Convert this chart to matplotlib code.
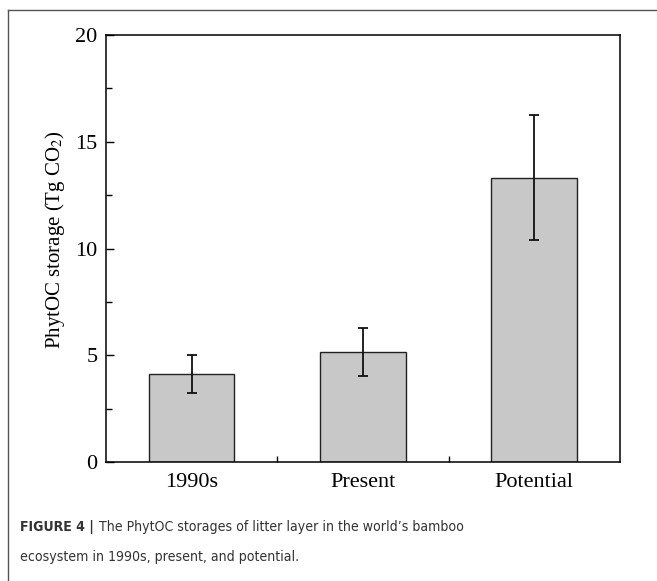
import numpy as np
import matplotlib
matplotlib.use("Agg")
import matplotlib.pyplot as plt
from matplotlib.lines import Line2D

# data
periods = ["1990s", "Present", "Potential"]
storage = [4.12, 5.17, 13.32]
storage_err = [0.90, 1.13, 2.94]

plt.rcParams["font.family"] = "Liberation Serif"
plt.rcParams["mathtext.fontset"] = "stix"

fig = plt.figure(figsize=(6.57, 5.81), dpi=100)
ax = fig.add_axes([0.1613, 0.2048, 0.7823, 0.7349])

x = np.arange(len(periods))
ax.bar(x, storage, width=0.5, color="#c8c8c8", edgecolor="#222222", linewidth=1.0, zorder=2)
ax.errorbar(x, storage, yerr=storage_err, fmt="none", ecolor="#111111",
            elinewidth=1.3, capsize=3.3, capthick=1.3, zorder=3)

ax.set_xlim(-0.5, 2.5)
ax.set_ylim(0, 20)
ax.set_yticks([0, 5, 10, 15, 20])
ax.set_yticks([2.5, 7.5, 12.5, 17.5], minor=True)
ax.set_xticks(x)
ax.set_xticklabels(periods)
ax.set_xticks([0.5, 1.5], minor=True)

ax.tick_params(axis="y", which="major", direction="in", length=6, width=1.0, labelsize=16, pad=6)
ax.tick_params(axis="y", which="minor", direction="in", length=4, width=1.0)
ax.tick_params(axis="x", which="major", length=0, labelsize=16, pad=8)
ax.tick_params(axis="x", which="minor", direction="in", length=4, width=1.0)

for s in ax.spines.values():
    s.set_linewidth(1.1)

ax.set_ylabel("PhytOC storage (Tg CO$_2$)", fontsize=15)
ax.yaxis.set_label_coords(-0.076, 0.52)

# outer frame (top and left edges)
fig.add_artist(Line2D([0.0122, 1.0], [0.9828, 0.9828], transform=fig.transFigure, color="#555555", lw=1.0))
fig.add_artist(Line2D([0.0122, 0.0122], [0.0, 0.9828], transform=fig.transFigure, color="#555555", lw=1.0))

# caption
cap_color = "#333333"
cap_kw = dict(fontsize=10.1, family="DejaVu Sans", fontstretch="condensed", color=cap_color, va="center")
head = fig.text(20 / 657, 1 - 527 / 581, "FIGURE 4 |", fontweight="bold", **cap_kw)
fig.canvas.draw()
bb = head.get_window_extent().transformed(fig.transFigure.inverted())
fig.text(bb.x1 + 5 / 657, 1 - 527 / 581, "The PhytOC storages of litter layer in the world\u2019s bamboo", **cap_kw)
fig.text(20 / 657, 1 - 557 / 581, "ecosystem in 1990s, present, and potential.", **cap_kw)

fig.savefig("out.png", dpi=100)
